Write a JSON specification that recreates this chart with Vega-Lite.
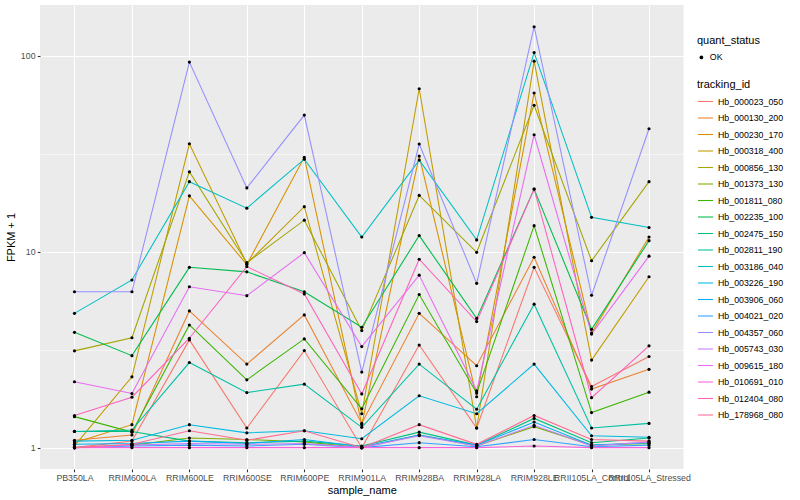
{
  "$schema": "https://vega.github.io/schema/vega-lite/v6.json",
  "width": 643.5,
  "height": 464,
  "autosize": {"type": "none"},
  "padding": {"left": 40, "top": 5, "right": 116.5, "bottom": 31},
  "background": "white",
  "config": {
    "view": {"fill": "#EBEBEB", "stroke": null},
    "font": "Liberation Sans",
    "axis": {
      "domain": false,
      "grid": true,
      "gridColor": "white",
      "gridWidth": 1.07,
      "tickColor": "#333333",
      "tickSize": 2.75,
      "tickWidth": 1.07,
      "labelColor": "#4D4D4D",
      "labelFontSize": 8.8,
      "labelPadding": 2.2,
      "titleFontSize": 11,
      "titleFontWeight": "normal",
      "titleColor": "black"
    }
  },
  "data": {
    "values": [
      {"tracking_id": "Hb_000023_050", "sample_name": "PB350LA", "fpkm": 1.0, "quant_status": "OK"},
      {"tracking_id": "Hb_000023_050", "sample_name": "RRIM600LA", "fpkm": 1.08, "quant_status": "OK"},
      {"tracking_id": "Hb_000023_050", "sample_name": "RRIM600LE", "fpkm": 3.55, "quant_status": "OK"},
      {"tracking_id": "Hb_000023_050", "sample_name": "RRIM600SE", "fpkm": 1.26, "quant_status": "OK"},
      {"tracking_id": "Hb_000023_050", "sample_name": "RRIM600PE", "fpkm": 3.13, "quant_status": "OK"},
      {"tracking_id": "Hb_000023_050", "sample_name": "RRIM901LA", "fpkm": 1.0, "quant_status": "OK"},
      {"tracking_id": "Hb_000023_050", "sample_name": "RRIM928BA", "fpkm": 3.34, "quant_status": "OK"},
      {"tracking_id": "Hb_000023_050", "sample_name": "RRIM928LA", "fpkm": 1.26, "quant_status": "OK"},
      {"tracking_id": "Hb_000023_050", "sample_name": "RRIM928LE", "fpkm": 8.33, "quant_status": "OK"},
      {"tracking_id": "Hb_000023_050", "sample_name": "RRII105LA_Control", "fpkm": 2.05, "quant_status": "OK"},
      {"tracking_id": "Hb_000023_050", "sample_name": "RRII105LA_Stressed", "fpkm": 2.92, "quant_status": "OK"},

      {"tracking_id": "Hb_000130_200", "sample_name": "PB350LA", "fpkm": 1.09, "quant_status": "OK"},
      {"tracking_id": "Hb_000130_200", "sample_name": "RRIM600LA", "fpkm": 1.16, "quant_status": "OK"},
      {"tracking_id": "Hb_000130_200", "sample_name": "RRIM600LE", "fpkm": 4.99, "quant_status": "OK"},
      {"tracking_id": "Hb_000130_200", "sample_name": "RRIM600SE", "fpkm": 2.67, "quant_status": "OK"},
      {"tracking_id": "Hb_000130_200", "sample_name": "RRIM600PE", "fpkm": 4.76, "quant_status": "OK"},
      {"tracking_id": "Hb_000130_200", "sample_name": "RRIM901LA", "fpkm": 1.33, "quant_status": "OK"},
      {"tracking_id": "Hb_000130_200", "sample_name": "RRIM928BA", "fpkm": 4.85, "quant_status": "OK"},
      {"tracking_id": "Hb_000130_200", "sample_name": "RRIM928LA", "fpkm": 2.62, "quant_status": "OK"},
      {"tracking_id": "Hb_000130_200", "sample_name": "RRIM928LE", "fpkm": 9.38, "quant_status": "OK"},
      {"tracking_id": "Hb_000130_200", "sample_name": "RRII105LA_Control", "fpkm": 1.99, "quant_status": "OK"},
      {"tracking_id": "Hb_000130_200", "sample_name": "RRII105LA_Stressed", "fpkm": 2.51, "quant_status": "OK"},

      {"tracking_id": "Hb_000230_170", "sample_name": "PB350LA", "fpkm": 1.06, "quant_status": "OK"},
      {"tracking_id": "Hb_000230_170", "sample_name": "RRIM600LA", "fpkm": 1.31, "quant_status": "OK"},
      {"tracking_id": "Hb_000230_170", "sample_name": "RRIM600LE", "fpkm": 19.3, "quant_status": "OK"},
      {"tracking_id": "Hb_000230_170", "sample_name": "RRIM600SE", "fpkm": 8.6, "quant_status": "OK"},
      {"tracking_id": "Hb_000230_170", "sample_name": "RRIM600PE", "fpkm": 30.4, "quant_status": "OK"},
      {"tracking_id": "Hb_000230_170", "sample_name": "RRIM901LA", "fpkm": 1.31, "quant_status": "OK"},
      {"tracking_id": "Hb_000230_170", "sample_name": "RRIM928BA", "fpkm": 30.8, "quant_status": "OK"},
      {"tracking_id": "Hb_000230_170", "sample_name": "RRIM928LA", "fpkm": 1.82, "quant_status": "OK"},
      {"tracking_id": "Hb_000230_170", "sample_name": "RRIM928LE", "fpkm": 64.7, "quant_status": "OK"},
      {"tracking_id": "Hb_000230_170", "sample_name": "RRII105LA_Control", "fpkm": 3.85, "quant_status": "OK"},
      {"tracking_id": "Hb_000230_170", "sample_name": "RRII105LA_Stressed", "fpkm": 11.9, "quant_status": "OK"},

      {"tracking_id": "Hb_000318_400", "sample_name": "PB350LA", "fpkm": 1.02, "quant_status": "OK"},
      {"tracking_id": "Hb_000318_400", "sample_name": "RRIM600LA", "fpkm": 2.30, "quant_status": "OK"},
      {"tracking_id": "Hb_000318_400", "sample_name": "RRIM600LE", "fpkm": 35.6, "quant_status": "OK"},
      {"tracking_id": "Hb_000318_400", "sample_name": "RRIM600SE", "fpkm": 8.7, "quant_status": "OK"},
      {"tracking_id": "Hb_000318_400", "sample_name": "RRIM600PE", "fpkm": 17.0, "quant_status": "OK"},
      {"tracking_id": "Hb_000318_400", "sample_name": "RRIM901LA", "fpkm": 1.49, "quant_status": "OK"},
      {"tracking_id": "Hb_000318_400", "sample_name": "RRIM928BA", "fpkm": 68, "quant_status": "OK"},
      {"tracking_id": "Hb_000318_400", "sample_name": "RRIM928LA", "fpkm": 1.26, "quant_status": "OK"},
      {"tracking_id": "Hb_000318_400", "sample_name": "RRIM928LE", "fpkm": 94, "quant_status": "OK"},
      {"tracking_id": "Hb_000318_400", "sample_name": "RRII105LA_Control", "fpkm": 2.80, "quant_status": "OK"},
      {"tracking_id": "Hb_000318_400", "sample_name": "RRII105LA_Stressed", "fpkm": 7.46, "quant_status": "OK"},

      {"tracking_id": "Hb_000856_130", "sample_name": "PB350LA", "fpkm": 3.12, "quant_status": "OK"},
      {"tracking_id": "Hb_000856_130", "sample_name": "RRIM600LA", "fpkm": 3.64, "quant_status": "OK"},
      {"tracking_id": "Hb_000856_130", "sample_name": "RRIM600LE", "fpkm": 25.6, "quant_status": "OK"},
      {"tracking_id": "Hb_000856_130", "sample_name": "RRIM600SE", "fpkm": 8.8, "quant_status": "OK"},
      {"tracking_id": "Hb_000856_130", "sample_name": "RRIM600PE", "fpkm": 14.5, "quant_status": "OK"},
      {"tracking_id": "Hb_000856_130", "sample_name": "RRIM901LA", "fpkm": 3.96, "quant_status": "OK"},
      {"tracking_id": "Hb_000856_130", "sample_name": "RRIM928BA", "fpkm": 19.4, "quant_status": "OK"},
      {"tracking_id": "Hb_000856_130", "sample_name": "RRIM928LA", "fpkm": 9.94, "quant_status": "OK"},
      {"tracking_id": "Hb_000856_130", "sample_name": "RRIM928LE", "fpkm": 56, "quant_status": "OK"},
      {"tracking_id": "Hb_000856_130", "sample_name": "RRII105LA_Control", "fpkm": 9.0, "quant_status": "OK"},
      {"tracking_id": "Hb_000856_130", "sample_name": "RRII105LA_Stressed", "fpkm": 22.8, "quant_status": "OK"},

      {"tracking_id": "Hb_001373_130", "sample_name": "PB350LA", "fpkm": 1.0, "quant_status": "OK"},
      {"tracking_id": "Hb_001373_130", "sample_name": "RRIM600LA", "fpkm": 1.03, "quant_status": "OK"},
      {"tracking_id": "Hb_001373_130", "sample_name": "RRIM600LE", "fpkm": 1.12, "quant_status": "OK"},
      {"tracking_id": "Hb_001373_130", "sample_name": "RRIM600SE", "fpkm": 1.1, "quant_status": "OK"},
      {"tracking_id": "Hb_001373_130", "sample_name": "RRIM600PE", "fpkm": 1.07, "quant_status": "OK"},
      {"tracking_id": "Hb_001373_130", "sample_name": "RRIM901LA", "fpkm": 1.0, "quant_status": "OK"},
      {"tracking_id": "Hb_001373_130", "sample_name": "RRIM928BA", "fpkm": 1.16, "quant_status": "OK"},
      {"tracking_id": "Hb_001373_130", "sample_name": "RRIM928LA", "fpkm": 1.02, "quant_status": "OK"},
      {"tracking_id": "Hb_001373_130", "sample_name": "RRIM928LE", "fpkm": 1.28, "quant_status": "OK"},
      {"tracking_id": "Hb_001373_130", "sample_name": "RRII105LA_Control", "fpkm": 1.03, "quant_status": "OK"},
      {"tracking_id": "Hb_001373_130", "sample_name": "RRII105LA_Stressed", "fpkm": 1.05, "quant_status": "OK"},

      {"tracking_id": "Hb_001811_080", "sample_name": "PB350LA", "fpkm": 1.44, "quant_status": "OK"},
      {"tracking_id": "Hb_001811_080", "sample_name": "RRIM600LA", "fpkm": 1.2, "quant_status": "OK"},
      {"tracking_id": "Hb_001811_080", "sample_name": "RRIM600LE", "fpkm": 4.23, "quant_status": "OK"},
      {"tracking_id": "Hb_001811_080", "sample_name": "RRIM600SE", "fpkm": 2.22, "quant_status": "OK"},
      {"tracking_id": "Hb_001811_080", "sample_name": "RRIM600PE", "fpkm": 3.59, "quant_status": "OK"},
      {"tracking_id": "Hb_001811_080", "sample_name": "RRIM901LA", "fpkm": 1.58, "quant_status": "OK"},
      {"tracking_id": "Hb_001811_080", "sample_name": "RRIM928BA", "fpkm": 6.05, "quant_status": "OK"},
      {"tracking_id": "Hb_001811_080", "sample_name": "RRIM928LA", "fpkm": 1.9, "quant_status": "OK"},
      {"tracking_id": "Hb_001811_080", "sample_name": "RRIM928LE", "fpkm": 13.6, "quant_status": "OK"},
      {"tracking_id": "Hb_001811_080", "sample_name": "RRII105LA_Control", "fpkm": 1.51, "quant_status": "OK"},
      {"tracking_id": "Hb_001811_080", "sample_name": "RRII105LA_Stressed", "fpkm": 1.92, "quant_status": "OK"},

      {"tracking_id": "Hb_002235_100", "sample_name": "PB350LA", "fpkm": 3.88, "quant_status": "OK"},
      {"tracking_id": "Hb_002235_100", "sample_name": "RRIM600LA", "fpkm": 2.95, "quant_status": "OK"},
      {"tracking_id": "Hb_002235_100", "sample_name": "RRIM600LE", "fpkm": 8.33, "quant_status": "OK"},
      {"tracking_id": "Hb_002235_100", "sample_name": "RRIM600SE", "fpkm": 7.9, "quant_status": "OK"},
      {"tracking_id": "Hb_002235_100", "sample_name": "RRIM600PE", "fpkm": 6.25, "quant_status": "OK"},
      {"tracking_id": "Hb_002235_100", "sample_name": "RRIM901LA", "fpkm": 4.12, "quant_status": "OK"},
      {"tracking_id": "Hb_002235_100", "sample_name": "RRIM928BA", "fpkm": 12.1, "quant_status": "OK"},
      {"tracking_id": "Hb_002235_100", "sample_name": "RRIM928LA", "fpkm": 4.57, "quant_status": "OK"},
      {"tracking_id": "Hb_002235_100", "sample_name": "RRIM928LE", "fpkm": 20.9, "quant_status": "OK"},
      {"tracking_id": "Hb_002235_100", "sample_name": "RRII105LA_Control", "fpkm": 4.02, "quant_status": "OK"},
      {"tracking_id": "Hb_002235_100", "sample_name": "RRII105LA_Stressed", "fpkm": 11.4, "quant_status": "OK"},

      {"tracking_id": "Hb_002475_150", "sample_name": "PB350LA", "fpkm": 1.21, "quant_status": "OK"},
      {"tracking_id": "Hb_002475_150", "sample_name": "RRIM600LA", "fpkm": 1.21, "quant_status": "OK"},
      {"tracking_id": "Hb_002475_150", "sample_name": "RRIM600LE", "fpkm": 1.08, "quant_status": "OK"},
      {"tracking_id": "Hb_002475_150", "sample_name": "RRIM600SE", "fpkm": 1.06, "quant_status": "OK"},
      {"tracking_id": "Hb_002475_150", "sample_name": "RRIM600PE", "fpkm": 1.08, "quant_status": "OK"},
      {"tracking_id": "Hb_002475_150", "sample_name": "RRIM901LA", "fpkm": 1.02, "quant_status": "OK"},
      {"tracking_id": "Hb_002475_150", "sample_name": "RRIM928BA", "fpkm": 1.2, "quant_status": "OK"},
      {"tracking_id": "Hb_002475_150", "sample_name": "RRIM928LA", "fpkm": 1.03, "quant_status": "OK"},
      {"tracking_id": "Hb_002475_150", "sample_name": "RRIM928LE", "fpkm": 1.41, "quant_status": "OK"},
      {"tracking_id": "Hb_002475_150", "sample_name": "RRII105LA_Control", "fpkm": 1.06, "quant_status": "OK"},
      {"tracking_id": "Hb_002475_150", "sample_name": "RRII105LA_Stressed", "fpkm": 1.12, "quant_status": "OK"},

      {"tracking_id": "Hb_002811_190", "sample_name": "PB350LA", "fpkm": 1.21, "quant_status": "OK"},
      {"tracking_id": "Hb_002811_190", "sample_name": "RRIM600LA", "fpkm": 1.23, "quant_status": "OK"},
      {"tracking_id": "Hb_002811_190", "sample_name": "RRIM600LE", "fpkm": 2.72, "quant_status": "OK"},
      {"tracking_id": "Hb_002811_190", "sample_name": "RRIM600SE", "fpkm": 1.91, "quant_status": "OK"},
      {"tracking_id": "Hb_002811_190", "sample_name": "RRIM600PE", "fpkm": 2.11, "quant_status": "OK"},
      {"tracking_id": "Hb_002811_190", "sample_name": "RRIM901LA", "fpkm": 1.27, "quant_status": "OK"},
      {"tracking_id": "Hb_002811_190", "sample_name": "RRIM928BA", "fpkm": 2.67, "quant_status": "OK"},
      {"tracking_id": "Hb_002811_190", "sample_name": "RRIM928LA", "fpkm": 1.57, "quant_status": "OK"},
      {"tracking_id": "Hb_002811_190", "sample_name": "RRIM928LE", "fpkm": 5.40, "quant_status": "OK"},
      {"tracking_id": "Hb_002811_190", "sample_name": "RRII105LA_Control", "fpkm": 1.26, "quant_status": "OK"},
      {"tracking_id": "Hb_002811_190", "sample_name": "RRII105LA_Stressed", "fpkm": 1.33, "quant_status": "OK"},

      {"tracking_id": "Hb_003186_040", "sample_name": "PB350LA", "fpkm": 4.85, "quant_status": "OK"},
      {"tracking_id": "Hb_003186_040", "sample_name": "RRIM600LA", "fpkm": 7.18, "quant_status": "OK"},
      {"tracking_id": "Hb_003186_040", "sample_name": "RRIM600LE", "fpkm": 22.8, "quant_status": "OK"},
      {"tracking_id": "Hb_003186_040", "sample_name": "RRIM600SE", "fpkm": 16.7, "quant_status": "OK"},
      {"tracking_id": "Hb_003186_040", "sample_name": "RRIM600PE", "fpkm": 29.7, "quant_status": "OK"},
      {"tracking_id": "Hb_003186_040", "sample_name": "RRIM901LA", "fpkm": 11.9, "quant_status": "OK"},
      {"tracking_id": "Hb_003186_040", "sample_name": "RRIM928BA", "fpkm": 29.4, "quant_status": "OK"},
      {"tracking_id": "Hb_003186_040", "sample_name": "RRIM928LA", "fpkm": 11.5, "quant_status": "OK"},
      {"tracking_id": "Hb_003186_040", "sample_name": "RRIM928LE", "fpkm": 104, "quant_status": "OK"},
      {"tracking_id": "Hb_003186_040", "sample_name": "RRII105LA_Control", "fpkm": 15.0, "quant_status": "OK"},
      {"tracking_id": "Hb_003186_040", "sample_name": "RRII105LA_Stressed", "fpkm": 13.3, "quant_status": "OK"},

      {"tracking_id": "Hb_003226_190", "sample_name": "PB350LA", "fpkm": 1.08, "quant_status": "OK"},
      {"tracking_id": "Hb_003226_190", "sample_name": "RRIM600LA", "fpkm": 1.09, "quant_status": "OK"},
      {"tracking_id": "Hb_003226_190", "sample_name": "RRIM600LE", "fpkm": 1.31, "quant_status": "OK"},
      {"tracking_id": "Hb_003226_190", "sample_name": "RRIM600SE", "fpkm": 1.19, "quant_status": "OK"},
      {"tracking_id": "Hb_003226_190", "sample_name": "RRIM600PE", "fpkm": 1.22, "quant_status": "OK"},
      {"tracking_id": "Hb_003226_190", "sample_name": "RRIM901LA", "fpkm": 1.11, "quant_status": "OK"},
      {"tracking_id": "Hb_003226_190", "sample_name": "RRIM928BA", "fpkm": 1.84, "quant_status": "OK"},
      {"tracking_id": "Hb_003226_190", "sample_name": "RRIM928LA", "fpkm": 1.49, "quant_status": "OK"},
      {"tracking_id": "Hb_003226_190", "sample_name": "RRIM928LE", "fpkm": 2.67, "quant_status": "OK"},
      {"tracking_id": "Hb_003226_190", "sample_name": "RRII105LA_Control", "fpkm": 1.15, "quant_status": "OK"},
      {"tracking_id": "Hb_003226_190", "sample_name": "RRII105LA_Stressed", "fpkm": 1.13, "quant_status": "OK"},

      {"tracking_id": "Hb_003906_060", "sample_name": "PB350LA", "fpkm": 1.04, "quant_status": "OK"},
      {"tracking_id": "Hb_003906_060", "sample_name": "RRIM600LA", "fpkm": 1.05, "quant_status": "OK"},
      {"tracking_id": "Hb_003906_060", "sample_name": "RRIM600LE", "fpkm": 1.08, "quant_status": "OK"},
      {"tracking_id": "Hb_003906_060", "sample_name": "RRIM600SE", "fpkm": 1.05, "quant_status": "OK"},
      {"tracking_id": "Hb_003906_060", "sample_name": "RRIM600PE", "fpkm": 1.10, "quant_status": "OK"},
      {"tracking_id": "Hb_003906_060", "sample_name": "RRIM901LA", "fpkm": 1.01, "quant_status": "OK"},
      {"tracking_id": "Hb_003906_060", "sample_name": "RRIM928BA", "fpkm": 1.16, "quant_status": "OK"},
      {"tracking_id": "Hb_003906_060", "sample_name": "RRIM928LA", "fpkm": 1.03, "quant_status": "OK"},
      {"tracking_id": "Hb_003906_060", "sample_name": "RRIM928LE", "fpkm": 1.35, "quant_status": "OK"},
      {"tracking_id": "Hb_003906_060", "sample_name": "RRII105LA_Control", "fpkm": 1.03, "quant_status": "OK"},
      {"tracking_id": "Hb_003906_060", "sample_name": "RRII105LA_Stressed", "fpkm": 1.06, "quant_status": "OK"},

      {"tracking_id": "Hb_004021_020", "sample_name": "PB350LA", "fpkm": 1.0, "quant_status": "OK"},
      {"tracking_id": "Hb_004021_020", "sample_name": "RRIM600LA", "fpkm": 1.02, "quant_status": "OK"},
      {"tracking_id": "Hb_004021_020", "sample_name": "RRIM600LE", "fpkm": 1.03, "quant_status": "OK"},
      {"tracking_id": "Hb_004021_020", "sample_name": "RRIM600SE", "fpkm": 1.02, "quant_status": "OK"},
      {"tracking_id": "Hb_004021_020", "sample_name": "RRIM600PE", "fpkm": 1.04, "quant_status": "OK"},
      {"tracking_id": "Hb_004021_020", "sample_name": "RRIM901LA", "fpkm": 1.0, "quant_status": "OK"},
      {"tracking_id": "Hb_004021_020", "sample_name": "RRIM928BA", "fpkm": 1.06, "quant_status": "OK"},
      {"tracking_id": "Hb_004021_020", "sample_name": "RRIM928LA", "fpkm": 1.01, "quant_status": "OK"},
      {"tracking_id": "Hb_004021_020", "sample_name": "RRIM928LE", "fpkm": 1.10, "quant_status": "OK"},
      {"tracking_id": "Hb_004021_020", "sample_name": "RRII105LA_Control", "fpkm": 1.01, "quant_status": "OK"},
      {"tracking_id": "Hb_004021_020", "sample_name": "RRII105LA_Stressed", "fpkm": 1.03, "quant_status": "OK"},

      {"tracking_id": "Hb_004357_060", "sample_name": "PB350LA", "fpkm": 6.25, "quant_status": "OK"},
      {"tracking_id": "Hb_004357_060", "sample_name": "RRIM600LA", "fpkm": 6.25, "quant_status": "OK"},
      {"tracking_id": "Hb_004357_060", "sample_name": "RRIM600LE", "fpkm": 93, "quant_status": "OK"},
      {"tracking_id": "Hb_004357_060", "sample_name": "RRIM600SE", "fpkm": 21.2, "quant_status": "OK"},
      {"tracking_id": "Hb_004357_060", "sample_name": "RRIM600PE", "fpkm": 49.9, "quant_status": "OK"},
      {"tracking_id": "Hb_004357_060", "sample_name": "RRIM901LA", "fpkm": 2.43, "quant_status": "OK"},
      {"tracking_id": "Hb_004357_060", "sample_name": "RRIM928BA", "fpkm": 35.5, "quant_status": "OK"},
      {"tracking_id": "Hb_004357_060", "sample_name": "RRIM928LA", "fpkm": 6.9, "quant_status": "OK"},
      {"tracking_id": "Hb_004357_060", "sample_name": "RRIM928LE", "fpkm": 141, "quant_status": "OK"},
      {"tracking_id": "Hb_004357_060", "sample_name": "RRII105LA_Control", "fpkm": 6.0, "quant_status": "OK"},
      {"tracking_id": "Hb_004357_060", "sample_name": "RRII105LA_Stressed", "fpkm": 42.5, "quant_status": "OK"},

      {"tracking_id": "Hb_005743_030", "sample_name": "PB350LA", "fpkm": 1.0, "quant_status": "OK"},
      {"tracking_id": "Hb_005743_030", "sample_name": "RRIM600LA", "fpkm": 1.03, "quant_status": "OK"},
      {"tracking_id": "Hb_005743_030", "sample_name": "RRIM600LE", "fpkm": 1.05, "quant_status": "OK"},
      {"tracking_id": "Hb_005743_030", "sample_name": "RRIM600SE", "fpkm": 1.04, "quant_status": "OK"},
      {"tracking_id": "Hb_005743_030", "sample_name": "RRIM600PE", "fpkm": 1.05, "quant_status": "OK"},
      {"tracking_id": "Hb_005743_030", "sample_name": "RRIM901LA", "fpkm": 1.0, "quant_status": "OK"},
      {"tracking_id": "Hb_005743_030", "sample_name": "RRIM928BA", "fpkm": 1.15, "quant_status": "OK"},
      {"tracking_id": "Hb_005743_030", "sample_name": "RRIM928LA", "fpkm": 1.02, "quant_status": "OK"},
      {"tracking_id": "Hb_005743_030", "sample_name": "RRIM928LE", "fpkm": 1.3, "quant_status": "OK"},
      {"tracking_id": "Hb_005743_030", "sample_name": "RRII105LA_Control", "fpkm": 1.02, "quant_status": "OK"},
      {"tracking_id": "Hb_005743_030", "sample_name": "RRII105LA_Stressed", "fpkm": 1.07, "quant_status": "OK"},

      {"tracking_id": "Hb_009615_180", "sample_name": "PB350LA", "fpkm": 2.17, "quant_status": "OK"},
      {"tracking_id": "Hb_009615_180", "sample_name": "RRIM600LA", "fpkm": 1.89, "quant_status": "OK"},
      {"tracking_id": "Hb_009615_180", "sample_name": "RRIM600LE", "fpkm": 6.63, "quant_status": "OK"},
      {"tracking_id": "Hb_009615_180", "sample_name": "RRIM600SE", "fpkm": 5.97, "quant_status": "OK"},
      {"tracking_id": "Hb_009615_180", "sample_name": "RRIM600PE", "fpkm": 9.9, "quant_status": "OK"},
      {"tracking_id": "Hb_009615_180", "sample_name": "RRIM901LA", "fpkm": 3.28, "quant_status": "OK"},
      {"tracking_id": "Hb_009615_180", "sample_name": "RRIM928BA", "fpkm": 7.6, "quant_status": "OK"},
      {"tracking_id": "Hb_009615_180", "sample_name": "RRIM928LA", "fpkm": 1.95, "quant_status": "OK"},
      {"tracking_id": "Hb_009615_180", "sample_name": "RRIM928LE", "fpkm": 39.6, "quant_status": "OK"},
      {"tracking_id": "Hb_009615_180", "sample_name": "RRII105LA_Control", "fpkm": 3.8, "quant_status": "OK"},
      {"tracking_id": "Hb_009615_180", "sample_name": "RRII105LA_Stressed", "fpkm": 9.5, "quant_status": "OK"},

      {"tracking_id": "Hb_010691_010", "sample_name": "PB350LA", "fpkm": 1.0, "quant_status": "OK"},
      {"tracking_id": "Hb_010691_010", "sample_name": "RRIM600LA", "fpkm": 1.0, "quant_status": "OK"},
      {"tracking_id": "Hb_010691_010", "sample_name": "RRIM600LE", "fpkm": 1.0, "quant_status": "OK"},
      {"tracking_id": "Hb_010691_010", "sample_name": "RRIM600SE", "fpkm": 1.0, "quant_status": "OK"},
      {"tracking_id": "Hb_010691_010", "sample_name": "RRIM600PE", "fpkm": 1.0, "quant_status": "OK"},
      {"tracking_id": "Hb_010691_010", "sample_name": "RRIM901LA", "fpkm": 1.0, "quant_status": "OK"},
      {"tracking_id": "Hb_010691_010", "sample_name": "RRIM928BA", "fpkm": 1.0, "quant_status": "OK"},
      {"tracking_id": "Hb_010691_010", "sample_name": "RRIM928LA", "fpkm": 1.0, "quant_status": "OK"},
      {"tracking_id": "Hb_010691_010", "sample_name": "RRIM928LE", "fpkm": 1.02, "quant_status": "OK"},
      {"tracking_id": "Hb_010691_010", "sample_name": "RRII105LA_Control", "fpkm": 1.0, "quant_status": "OK"},
      {"tracking_id": "Hb_010691_010", "sample_name": "RRII105LA_Stressed", "fpkm": 1.0, "quant_status": "OK"},

      {"tracking_id": "Hb_012404_080", "sample_name": "PB350LA", "fpkm": 1.46, "quant_status": "OK"},
      {"tracking_id": "Hb_012404_080", "sample_name": "RRIM600LA", "fpkm": 1.81, "quant_status": "OK"},
      {"tracking_id": "Hb_012404_080", "sample_name": "RRIM600LE", "fpkm": 3.62, "quant_status": "OK"},
      {"tracking_id": "Hb_012404_080", "sample_name": "RRIM600SE", "fpkm": 8.4, "quant_status": "OK"},
      {"tracking_id": "Hb_012404_080", "sample_name": "RRIM600PE", "fpkm": 6.09, "quant_status": "OK"},
      {"tracking_id": "Hb_012404_080", "sample_name": "RRIM901LA", "fpkm": 1.88, "quant_status": "OK"},
      {"tracking_id": "Hb_012404_080", "sample_name": "RRIM928BA", "fpkm": 9.16, "quant_status": "OK"},
      {"tracking_id": "Hb_012404_080", "sample_name": "RRIM928LA", "fpkm": 4.4, "quant_status": "OK"},
      {"tracking_id": "Hb_012404_080", "sample_name": "RRIM928LE", "fpkm": 20.9, "quant_status": "OK"},
      {"tracking_id": "Hb_012404_080", "sample_name": "RRII105LA_Control", "fpkm": 1.80, "quant_status": "OK"},
      {"tracking_id": "Hb_012404_080", "sample_name": "RRII105LA_Stressed", "fpkm": 3.31, "quant_status": "OK"},

      {"tracking_id": "Hb_178968_080", "sample_name": "PB350LA", "fpkm": 1.0, "quant_status": "OK"},
      {"tracking_id": "Hb_178968_080", "sample_name": "RRIM600LA", "fpkm": 1.04, "quant_status": "OK"},
      {"tracking_id": "Hb_178968_080", "sample_name": "RRIM600LE", "fpkm": 1.22, "quant_status": "OK"},
      {"tracking_id": "Hb_178968_080", "sample_name": "RRIM600SE", "fpkm": 1.09, "quant_status": "OK"},
      {"tracking_id": "Hb_178968_080", "sample_name": "RRIM600PE", "fpkm": 1.22, "quant_status": "OK"},
      {"tracking_id": "Hb_178968_080", "sample_name": "RRIM901LA", "fpkm": 1.0, "quant_status": "OK"},
      {"tracking_id": "Hb_178968_080", "sample_name": "RRIM928BA", "fpkm": 1.31, "quant_status": "OK"},
      {"tracking_id": "Hb_178968_080", "sample_name": "RRIM928LA", "fpkm": 1.04, "quant_status": "OK"},
      {"tracking_id": "Hb_178968_080", "sample_name": "RRIM928LE", "fpkm": 1.46, "quant_status": "OK"},
      {"tracking_id": "Hb_178968_080", "sample_name": "RRII105LA_Control", "fpkm": 1.1, "quant_status": "OK"},
      {"tracking_id": "Hb_178968_080", "sample_name": "RRII105LA_Stressed", "fpkm": 1.08, "quant_status": "OK"}
    ]
  },
  "encoding": {
    "x": {
      "field": "sample_name",
      "type": "nominal",
      "sort": ["PB350LA", "RRIM600LA", "RRIM600LE", "RRIM600SE", "RRIM600PE", "RRIM901LA", "RRIM928BA", "RRIM928LA", "RRIM928LE", "RRII105LA_Control", "RRII105LA_Stressed"],
      "scale": {"type": "point", "padding": 0.6},
      "axis": {
        "title": "sample_name",
        "labelAngle": 0,
        "labelOverlap": false,
        "labelBound": false,
        "labelLimit": 0,
        "titlePadding": 2
      }
    },
    "y": {
      "field": "fpkm",
      "type": "quantitative",
      "scale": {"type": "log", "domain": [0.778, 182], "nice": false, "zero": false},
      "axis": {
        "title": "FPKM + 1",
        "values": [1, 3.1623, 10, 31.623, 100],
        "labelExpr": "datum.value == 1 ? '1' : (datum.value == 10 ? '10' : (datum.value == 100 ? '100' : ''))",
        "gridWidth": {"condition": {"test": "datum.value == 1 || datum.value == 10 || datum.value == 100", "value": 1.07}, "value": 0.53},
        "tickOpacity": {"condition": {"test": "datum.value == 1 || datum.value == 10 || datum.value == 100", "value": 1}, "value": 0},
        "titlePadding": 4
      }
    }
  },
  "layer": [
    {
      "mark": {"type": "line", "strokeWidth": 1.07},
      "encoding": {
        "color": {
          "field": "tracking_id",
          "type": "nominal",
          "scale": {"range": ["#F8766D", "#EA8331", "#D89000", "#C09B00", "#A3A500", "#7CAE00", "#39B600", "#00BB4E", "#00BF7D", "#00C1A3", "#00BFC4", "#00BAE0", "#00B0F6", "#35A2FF", "#9590FF", "#C77CFF", "#E76BF3", "#FA62DB", "#FF62BC", "#FF6C91"]},
          "legend": {
            "title": "tracking_id",
            "orient": "none",
            "legendX": 657,
            "legendY": 74,
            "padding": 0,
            "titleFontSize": 11,
            "titleFontWeight": "normal",
            "titleColor": "black",
            "titlePadding": 3,
            "labelFontSize": 8.8,
            "labelColor": "black",
            "labelOffset": 4,
            "symbolType": "stroke",
            "symbolSize": 225,
            "symbolStrokeWidth": 1.07,
            "rowPadding": 2.5
          }
        }
      }
    },
    {
      "mark": {"type": "point", "filled": true, "color": "black", "size": 10, "opacity": 1},
      "encoding": {
        "shape": {
          "field": "quant_status",
          "type": "nominal",
          "scale": {"range": ["circle"]},
          "legend": {
            "title": "quant_status",
            "orient": "none",
            "legendX": 657,
            "legendY": 30,
            "padding": 0,
            "titleFontSize": 11,
            "titleFontWeight": "normal",
            "titleColor": "black",
            "titlePadding": 7,
            "labelFontSize": 8.8,
            "labelColor": "black",
            "labelOffset": 4,
            "symbolSize": 14,
            "symbolFillColor": "black",
            "symbolStrokeColor": "black"
          }
        }
      }
    }
  ]
}
